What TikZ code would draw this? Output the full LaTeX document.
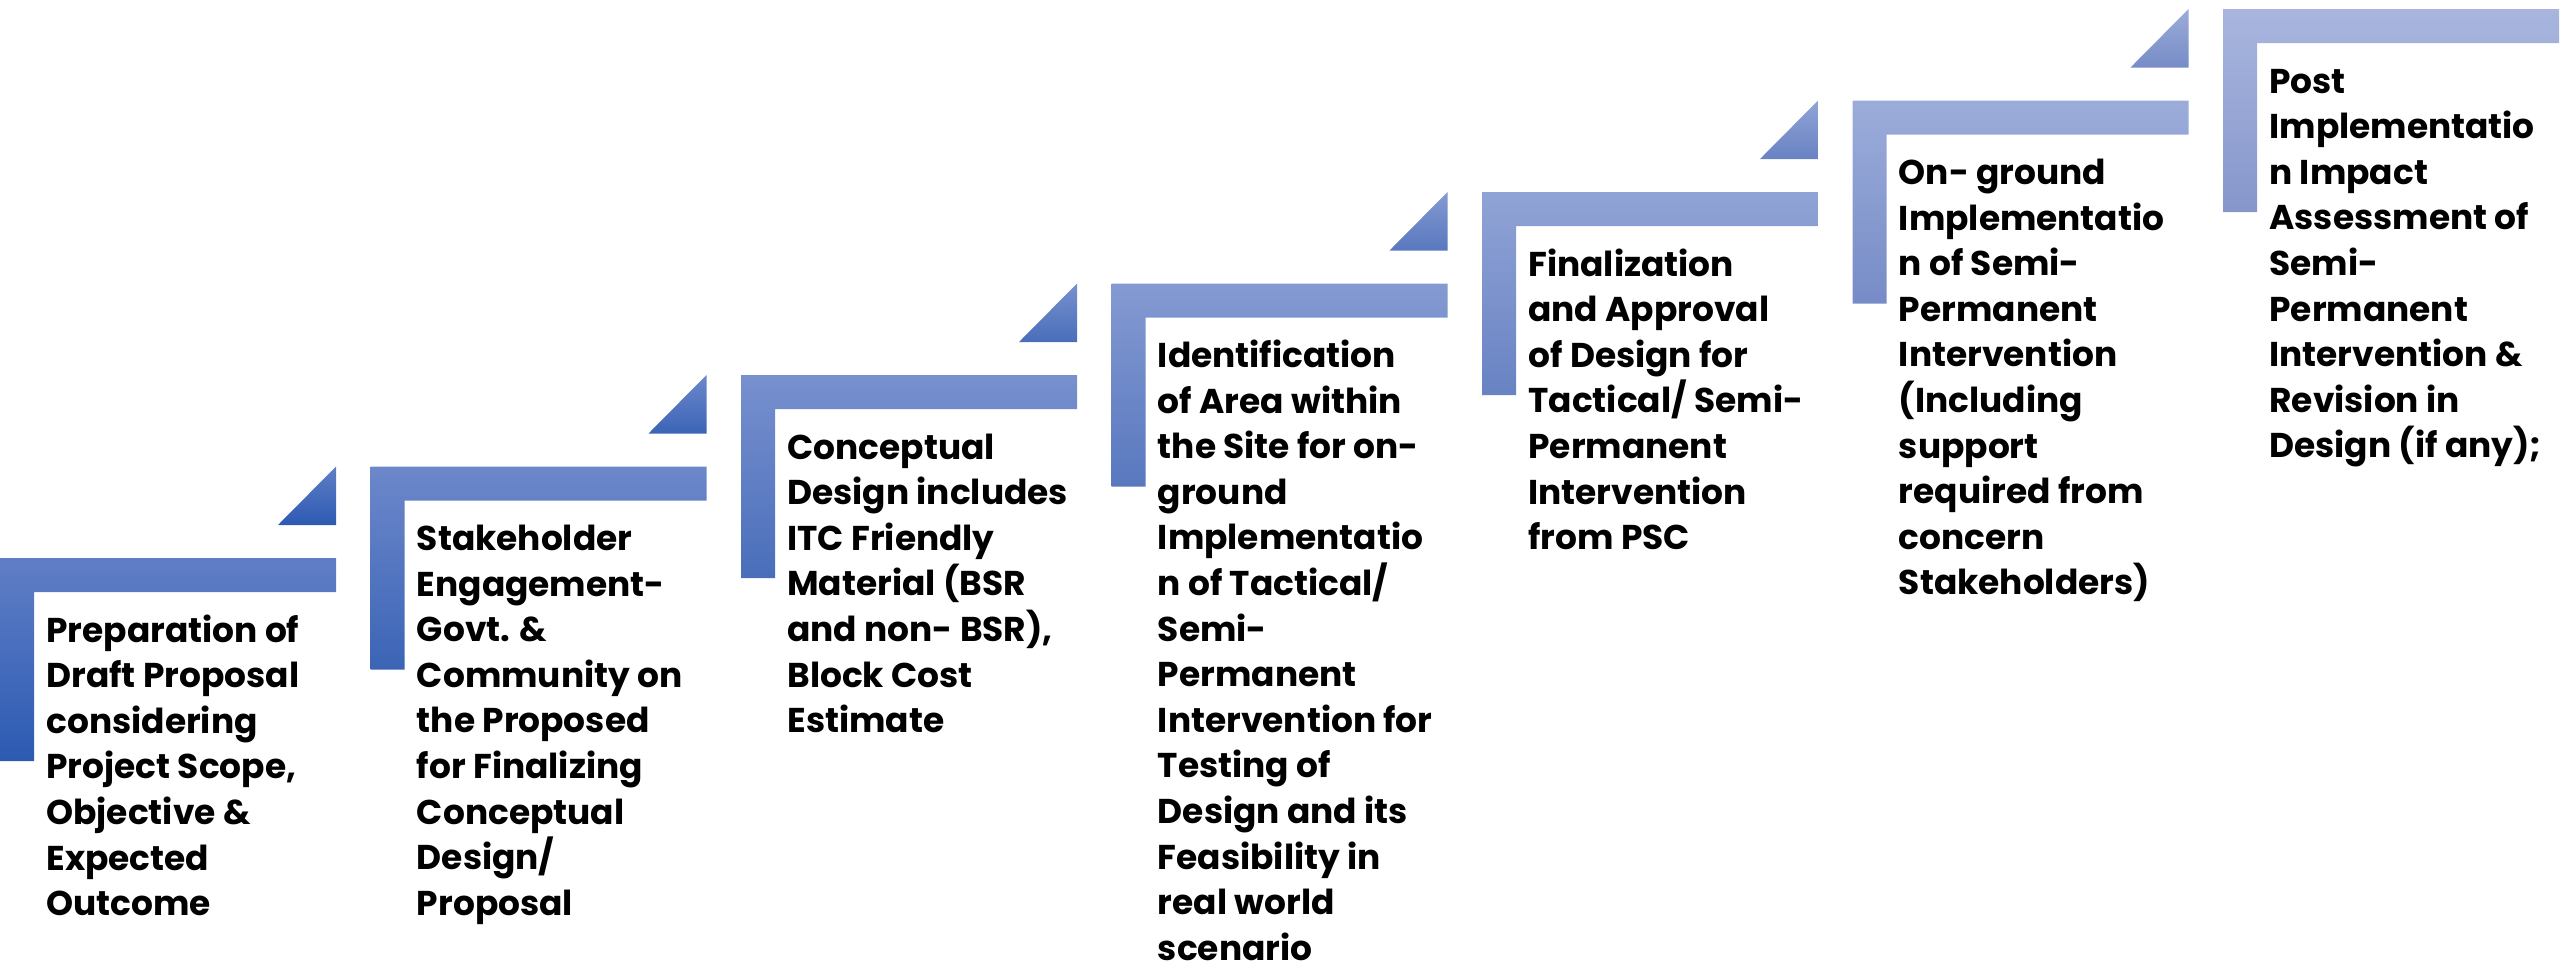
\documentclass[tikz,border=0pt]{standalone}
\usepackage{fontspec}
\setmainfont{Poppins}
\definecolor{topA}{RGB}{96,126,198}
\definecolor{botA}{RGB}{44,90,178}
\definecolor{topB}{RGB}{168,182,222}
\definecolor{botB}{RGB}{134,150,203}
\newcommand{\steptext}[1]{\parbox[t]{220pt}{\raggedright\fontsize{17.2}{22.8}\selectfont\bfseries #1}}
\tikzset{
  steplabel/.style={anchor=base west, inner sep=0pt, text=black},
}
\begin{document}
\begin{tikzpicture}[x=0.5pt,y=-0.5pt]
\useasboundingbox (0,0) rectangle (2560,966);
\foreach \i in {0,...,6}{
  \pgfmathsetmacro{\L}{370.5*\i}
  \pgfmathsetmacro{\T}{558-91.5*\i}
  \pgfmathtruncatemacro{\pct}{round(100*\i/6)}
  \colorlet{ctop}{topB!\pct!topA}
  \colorlet{cbot}{botB!\pct!botA}
  \shade[top color=ctop, bottom color=cbot]
    (\L,\T) -- (\L+336,\T) -- (\L+336,\T+34) -- (\L+34,\T+34)
    -- (\L+34,\T+203) -- (\L,\T+203) -- cycle;
  \ifnum\i<6
    \shade[top color=ctop, bottom color=cbot]
      (\L+278,\T-33) -- (\L+336,\T-91.5) -- (\L+336,\T-33) -- cycle;
  \fi
}
\node[steplabel] (s1) at (46,642) {\steptext{Preparation of\\Draft Proposal\\considering\\Project Scope,\\Objective \&\\Expected\\Outcome}};
\node[steplabel] (s2) at (416.5,550.5) {\steptext{Stakeholder\\Engagement-\\Govt. \&\\Community on\\the Proposed\\for Finalizing\\Conceptual\\Design/\\Proposal}};
\node[steplabel] (s3) at (787,459) {\steptext{Conceptual\\Design includes\\ITC Friendly\\Material (BSR\\and non- BSR),\\Block Cost\\Estimate}};
\node[steplabel] (s4) at (1157.5,367.5) {\steptext{Identification\\of Area within\\the Site for on-\\ground\\Implementatio\\n of Tactical/\\Semi-\\Permanent\\Intervention for\\Testing of\\Design and its\\Feasibility in\\real world\\scenario}};
\node[steplabel] (s5) at (1528,276) {\steptext{Finalization\\and Approval\\of Design for\\Tactical/ Semi-\\Permanent\\Intervention\\from PSC}};
\node[steplabel] (s6) at (1898.5,184.5) {\steptext{On- ground\\Implementatio\\n of Semi-\\Permanent\\Intervention\\(Including\\support\\required from\\concern\\Stakeholders)}};
\node[steplabel] (s7) at (2269,93) {\steptext{Post\\Implementatio\\n Impact\\Assessment of\\Semi-\\Permanent\\Intervention \&\\Revision in\\Design (if any);}};
\end{tikzpicture}
\end{document}
